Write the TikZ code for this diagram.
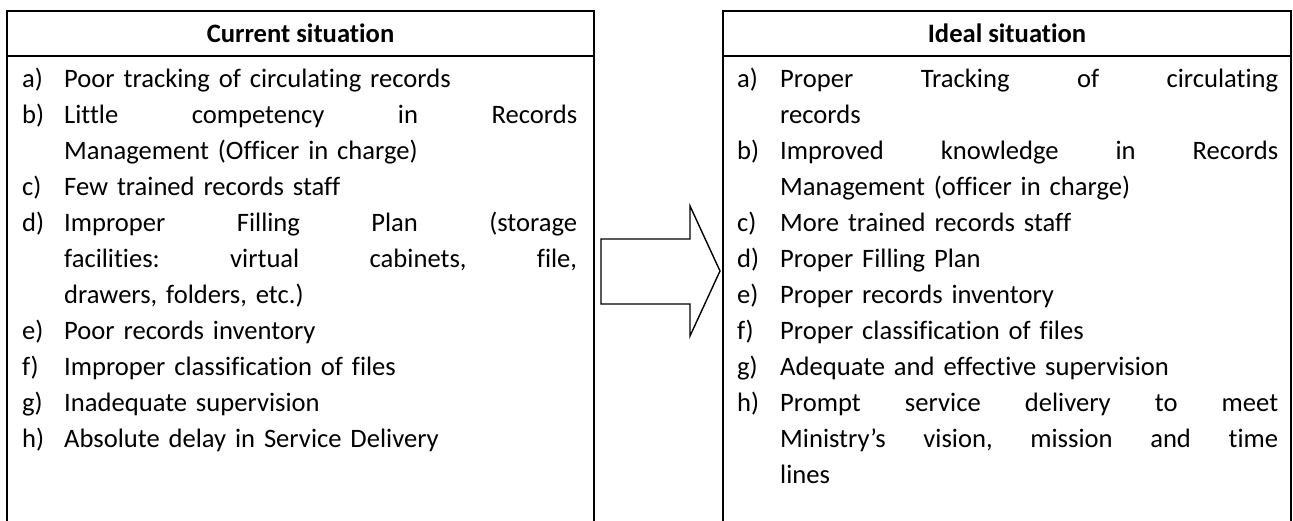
\documentclass[tikz,border=0pt]{standalone}
\usepackage{fontspec}
\setmainfont{Carlito}[Ligatures=NoCommon]
% justified lines, stretched to the width of each column
\newcommand{\ljl}[1]{\leavevmode\hbox to 513pt{#1}}
\newcommand{\rjl}[1]{\leavevmode\hbox to 498pt{#1}}
\begin{document}
\begin{tikzpicture}[x=1pt,y=-1pt,
  frame/.style={draw=black, line width=1.7pt},
  bigarrow/.style={draw=black, line width=1.4pt, line join=miter},
  txt/.style={font=\fontsize{26.6}{36}\selectfont, inner sep=0pt, anchor=base west},
  head/.style={font=\fontsize{26.6}{36}\selectfont\bfseries, inner sep=0pt, anchor=base},
  lefttext/.style={txt, text width=513pt, align=left},
  righttext/.style={txt, text width=498pt, align=left}]
\useasboundingbox (0,0) rectangle (1293,520);
\clip (0,0) rectangle (1293,520);

% ---- left column: current situation ----
\draw[frame] (7,540) -- (7,11) -- (594,11) -- (594,540);
\draw[frame] (7,56) -- (594,56);
\node[head] (curhead) at (300.5,42) {Current situation};

\def\rowA{87}
\def\dy{36}
\node[txt] (la) at (22,\rowA) {a)};
\node[lefttext] (ta) at (64,\rowA) {Poor tracking of circulating records};
\node[txt] (lb) at (22,\rowA+\dy) {b)};
\node[lefttext] (tb) at (64,\rowA+\dy) {\ljl{Little\hfil competency\hfil in\hfil Records}\\Management (Officer in charge)};
\node[txt] (lc) at (22,\rowA+3*\dy) {c)};
\node[lefttext] (tc) at (64,\rowA+3*\dy) {Few trained records staff};
\node[txt] (ld) at (22,\rowA+4*\dy) {d)};
\node[lefttext] (td) at (64,\rowA+4*\dy) {\ljl{Improper\hfil Filling\hfil Plan\hfil (storage}\\\ljl{facilities:\hfil virtual\hfil cabinets,\hfil file,}\\drawers, folders, etc.)};
\node[txt] (le) at (22,\rowA+7*\dy) {e)};
\node[lefttext] (te) at (64,\rowA+7*\dy) {Poor records inventory};
\node[txt] (lf) at (22,\rowA+8*\dy) {f)};
\node[lefttext] (tf) at (64,\rowA+8*\dy) {Improper classification of files};
\node[txt] (lg) at (22,\rowA+9*\dy) {g)};
\node[lefttext] (tg) at (64,\rowA+9*\dy) {Inadequate supervision};
\node[txt] (lh) at (22,\rowA+10*\dy) {h)};
\node[lefttext] (th) at (64,\rowA+10*\dy) {Absolute delay in Service Delivery};

% ---- block arrow ----
\draw[bigarrow] (601,239) -- (690,239) -- (690,206) -- (720,271)
  -- (690,336) -- (690,304) -- (601,304) -- cycle;

% ---- right column: ideal situation ----
\draw[frame] (723,540) -- (723,11) -- (1291,11) -- (1291,540);
\draw[frame] (723,56) -- (1291,56);
\node[head] (idhead) at (1007,42) {Ideal situation};

\node[txt] (ra) at (737,\rowA) {a)};
\node[righttext] (sa) at (780,\rowA) {\rjl{Proper\hfil Tracking\hfil of\hfil circulating}\\records};
\node[txt] (rb) at (737,\rowA+2*\dy) {b)};
\node[righttext] (sb) at (780,\rowA+2*\dy) {\rjl{Improved\hfil knowledge\hfil in\hfil Records}\\Management (officer in charge)};
\node[txt] (rc) at (737,\rowA+4*\dy) {c)};
\node[righttext] (sc) at (780,\rowA+4*\dy) {More trained records staff};
\node[txt] (rd) at (737,\rowA+5*\dy) {d)};
\node[righttext] (sd) at (780,\rowA+5*\dy) {Proper Filling Plan};
\node[txt] (re) at (737,\rowA+6*\dy) {e)};
\node[righttext] (se) at (780,\rowA+6*\dy) {Proper records inventory};
\node[txt] (rf) at (737,\rowA+7*\dy) {f)};
\node[righttext] (sf) at (780,\rowA+7*\dy) {Proper classification of files};
\node[txt] (rg) at (737,\rowA+8*\dy) {g)};
\node[righttext] (sg) at (780,\rowA+8*\dy) {Adequate and effective supervision};
\node[txt] (rh) at (737,\rowA+9*\dy) {h)};
\node[righttext] (sh) at (780,\rowA+9*\dy) {\rjl{Prompt\hfil service\hfil delivery\hfil to\hfil meet}\\\rjl{Ministry’s\hfil vision,\hfil mission\hfil and\hfil time}\\lines};
\end{tikzpicture}
\end{document}
